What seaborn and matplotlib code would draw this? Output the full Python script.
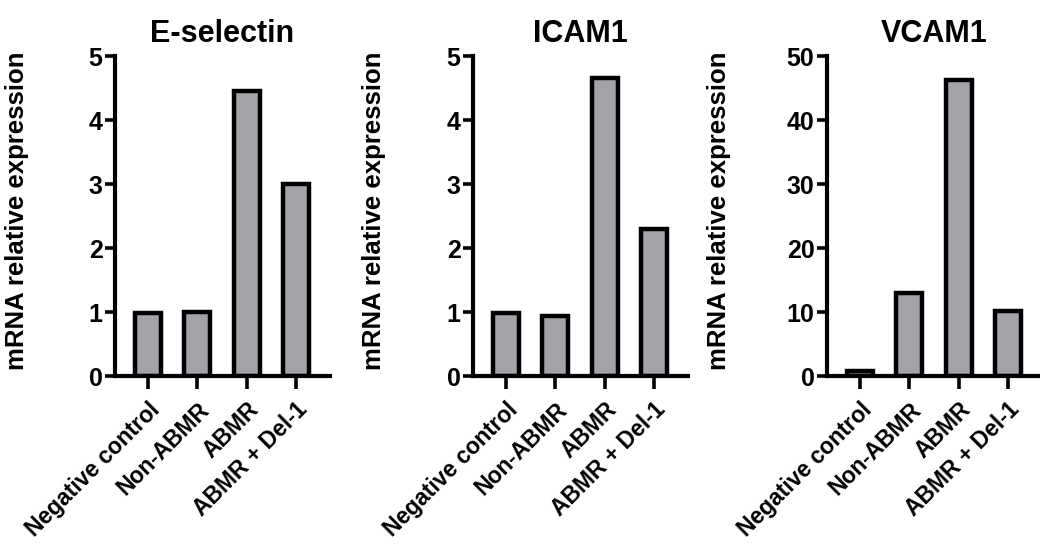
import pandas as pd
import matplotlib
matplotlib.use("Agg")
import matplotlib.pyplot as plt
import seaborn as sns

sns.set_style("ticks", {"axes.edgecolor": "black", "text.color": "black",
                        "xtick.color": "black", "ytick.color": "black",
                        "axes.labelcolor": "black"})
plt.rcParams['font.family'] = ['Liberation Sans', 'DejaVu Sans']
plt.rcParams['font.weight'] = 'bold'

groups = ["Negative control", "Non-ABMR", "ABMR", "ABMR + Del-1"]
e_selectin = [0.98, 1.0, 4.45, 3.0]
icam1 = [0.98, 0.94, 4.66, 2.30]
vcam1 = [0.8, 12.9, 46.3, 10.2]

titles = ["E-selectin", "ICAM1", "VCAM1"]
ymaxes = [5, 5, 50]
ysteps = [1, 1, 10]
lefts = [115, 473, 827]  # axis spine x in pixels
label_x = [-0.40, -0.405, -0.445]

W, H = 1040, 547
fig = plt.figure(figsize=(W / 100, H / 100), dpi=100)

for i, values in enumerate([e_selectin, icam1, vcam1]):
    df = pd.DataFrame({"group": groups, "value": values})
    ax = fig.add_axes([lefts[i] / W, (H - 376) / H, 215 / W, 320 / H])
    sns.barplot(data=df, x="group", y="value", ax=ax, color="#A2A2A7",
                saturation=1, width=0.53, edgecolor="black", linewidth=3.2)
    ax.set_xlim(-0.67, 3.69)
    ax.set_ylim(0, ymaxes[i])
    ax.set_yticks(range(0, ymaxes[i] + 1, ysteps[i]))
    sns.despine(ax=ax)
    for s in ["left", "bottom"]:
        ax.spines[s].set_linewidth(3)
    ax.tick_params(axis="y", length=7, width=2.6, labelsize=18, pad=2)
    ax.tick_params(axis="x", length=9, width=2.6, labelsize=16.5, pad=7)
    plt.setp(ax.get_xticklabels(), rotation=45, ha="right",
             rotation_mode="anchor", fontweight="bold")
    plt.setp(ax.get_yticklabels(), fontweight="bold")
    ax.set_xlabel("")
    ax.set_ylabel("mRNA relative expression", fontsize=18.5, fontweight="bold")
    ax.yaxis.set_label_coords(label_x[i], 0.515)
    ax.set_title(titles[i], fontsize=22, fontweight="bold", pad=10)

fig.savefig("out.png", dpi=100)
